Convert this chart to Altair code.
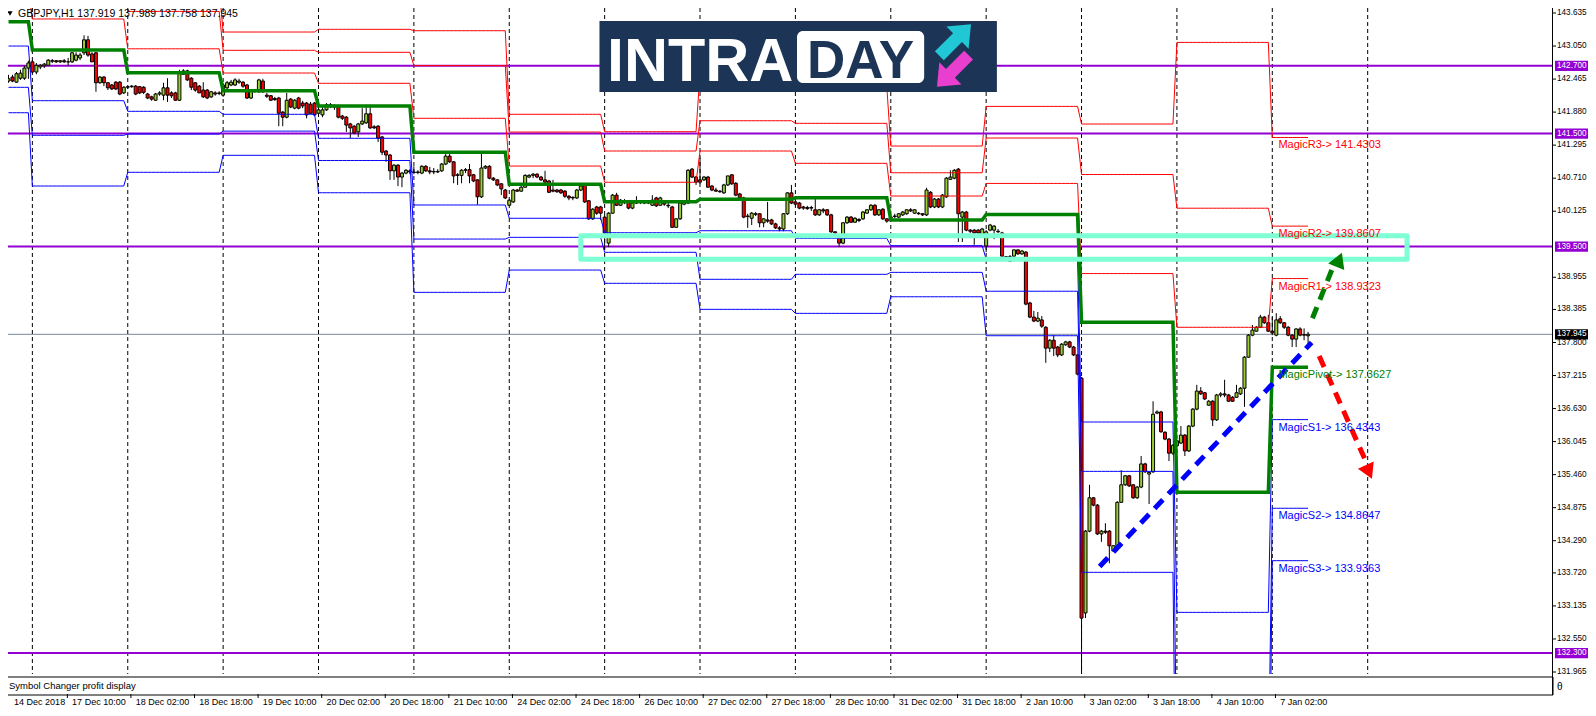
import altair as alt
import pandas as pd
from bisect import bisect_right

symbol = "GBPJPY"
timeframe = "H1"

# ---------------- hourly candles (bar 0 = 14 Dec 18:00) ----------------
opens = [
 142.43,142.50,142.41,142.48,142.48,142.66,142.77,142.59,142.68,142.70,
 142.71,142.79,142.79,142.77,142.79,142.77,142.77,142.80,142.84,142.93,
 143.16,142.91,142.93,142.40,142.50,142.40,142.36,142.41,142.41,142.22,
 142.32,142.33,142.34,142.33,142.32,142.20,142.15,142.09,142.20,142.18,
 142.31,142.22,142.22,142.09,142.55,142.61,142.48,142.40,142.34,142.27,
 142.27,142.15,142.22,142.22,142.18,142.31,142.36,142.36,142.41,142.41,
 142.36,142.13,142.25,142.24,142.43,142.18,142.17,142.12,142.13,141.88,
 141.79,142.11,141.95,142.13,142.04,142.04,142.02,142.04,141.86,141.83,
 141.92,142.01,141.99,141.99,141.81,141.79,141.67,141.63,141.53,141.67,
 141.69,141.85,141.62,141.63,141.44,141.19,141.12,140.84,140.94,140.73,
 140.80,140.84,140.82,140.81,140.80,140.92,140.84,140.82,140.83,140.84,
 140.96,141.10,141.00,140.77,140.76,140.85,140.86,140.77,140.68,140.38,
 140.89,140.92,140.71,140.68,140.61,140.50,140.23,140.29,140.50,140.48,
 140.55,140.73,140.76,140.78,140.73,140.68,140.66,140.50,140.50,140.50,
 140.48,140.39,140.37,140.36,140.50,140.59,140.31,139.99,140.20,140.20,
 140.02,139.56,140.09,140.41,140.23,140.31,140.29,140.18,140.27,140.29,
 140.29,140.27,140.23,140.36,140.23,140.27,140.23,140.20,139.84,139.99,
 140.25,140.27,140.87,140.73,140.68,140.68,140.73,140.57,140.50,140.48,
 140.45,140.59,140.77,140.62,140.43,140.36,140.04,140.00,140.08,140.08,
 139.92,139.97,139.97,139.90,139.83,139.81,140.08,140.45,140.29,140.27,
 140.20,140.19,140.18,140.15,140.06,140.15,140.15,140.06,139.76,139.67,
 139.56,139.92,140.02,139.93,139.98,139.99,140.09,140.15,140.23,140.06,
 140.16,139.99,140.00,140.04,140.02,140.06,140.08,140.15,140.09,140.09,
 140.08,140.06,140.46,140.20,140.34,140.20,140.38,140.69,140.71,140.87,
 140.02,140.11,139.79,139.79,139.79,139.70,139.51,139.79,139.79,139.77,
 139.74,139.32,139.32,139.33,139.44,139.37,139.40,138.50,138.25,138.18,
 138.20,138.07,137.70,137.84,137.72,137.58,137.76,137.81,137.72,137.58,
 137.17,133.01,134.46,135.05,134.92,134.41,134.46,134.46,134.11,134.20,
 134.97,135.28,135.44,135.28,135.05,135.24,135.65,135.47,135.51,136.55,
 136.57,136.21,136.09,135.84,135.97,136.02,136.16,135.88,136.32,136.62,
 136.94,136.91,136.69,136.76,136.43,136.87,136.89,136.87,136.83,136.83,
 136.89,136.99,137.54,137.93,138.00,138.07,138.25,138.15,138.00,137.93,
 138.22,138.15,138.07,137.93,137.86,138.04,137.94,137.919]
highs = [
 142.54,142.54,142.59,142.63,142.70,142.79,142.80,142.75,142.73,142.75,
 142.82,142.82,142.80,142.80,142.82,142.84,142.94,142.94,142.93,143.24,
 143.23,142.94,142.94,142.52,142.52,142.41,142.38,142.43,142.43,142.34,
 142.34,142.36,142.36,142.34,142.34,142.22,142.17,142.22,142.25,142.40,
 142.48,142.25,142.24,142.63,142.64,142.63,142.50,142.41,142.36,142.41,
 142.29,142.25,142.25,142.25,142.40,142.43,142.45,142.48,142.47,142.43,
 142.38,142.29,142.29,142.47,142.47,142.22,142.18,142.15,142.15,141.90,
 142.22,142.13,142.11,142.15,142.08,142.06,142.06,142.06,141.95,141.99,
 142.04,142.04,142.02,142.01,141.83,141.81,141.69,141.65,141.69,141.95,
 142.01,142.01,141.65,141.65,141.46,141.21,141.14,140.96,140.96,140.82,
 140.87,140.87,140.92,140.85,140.94,140.94,140.91,140.89,140.87,140.98,
 141.16,141.16,141.01,140.80,140.87,140.89,140.96,140.78,140.69,141.16,
 140.94,140.94,140.73,140.69,140.62,140.52,140.34,140.52,140.52,140.57,
 140.78,140.78,140.80,140.80,140.75,140.84,140.68,140.68,140.52,140.52,
 140.50,140.41,140.39,140.52,140.59,140.61,140.32,140.18,140.22,140.22,
 140.06,140.11,140.43,140.45,140.34,140.34,140.31,140.29,140.39,140.32,
 140.32,140.32,140.41,140.38,140.38,140.29,140.27,140.22,140.00,140.29,
 140.31,140.87,140.89,140.75,141.07,140.75,140.75,140.59,140.54,140.50,
 140.61,140.75,140.78,140.64,140.45,140.38,140.08,140.11,140.11,140.09,
 140.00,140.29,139.99,139.92,139.86,140.09,140.46,140.59,140.31,140.29,
 140.22,140.22,140.22,140.36,140.16,140.18,140.16,140.08,139.77,139.69,
 139.93,140.04,140.04,140.02,140.00,140.13,140.16,140.25,140.25,140.16,
 140.18,140.00,140.04,140.08,140.09,140.13,140.16,140.18,140.16,140.11,
 140.09,140.54,140.48,140.36,140.36,140.43,140.73,140.85,140.87,140.89,
 140.13,140.13,139.81,139.81,139.81,139.83,139.79,139.90,139.88,139.81,
 139.76,139.33,139.35,139.45,139.45,139.44,139.42,138.52,138.36,138.34,
 138.27,138.09,137.86,137.93,137.74,137.79,137.83,137.83,137.74,137.59,
 137.19,134.48,135.28,135.06,134.94,134.48,134.60,134.48,134.21,134.99,
 135.54,135.45,135.45,135.29,135.26,135.79,135.67,135.52,136.76,136.60,
 136.59,136.23,136.11,136.00,136.07,136.32,136.18,136.34,136.64,137.05,
 137.01,136.92,136.78,136.78,136.89,136.92,137.14,136.89,136.85,137.05,
 137.01,137.56,137.95,138.11,138.09,138.29,138.27,138.29,138.25,138.32,
 138.27,138.16,138.09,137.95,138.05,138.07,138.05,137.989]
lows = [
 142.40,142.41,142.40,142.45,142.45,142.47,142.57,142.55,142.64,142.66,
 142.70,142.75,142.75,142.75,142.75,142.70,142.75,142.78,142.80,142.89,
 142.86,142.77,142.24,142.38,142.34,142.27,142.27,142.27,142.18,142.20,
 142.29,142.31,142.18,142.20,142.20,142.11,142.08,142.08,142.17,142.09,
 142.06,142.13,142.08,142.08,142.54,142.43,142.27,142.24,142.22,142.13,
 142.11,142.13,142.17,142.18,142.15,142.24,142.34,142.34,142.38,142.31,
 142.11,142.11,142.22,142.22,142.22,142.13,142.08,142.08,141.63,141.63,
 141.77,141.95,141.93,141.93,141.95,141.77,141.85,141.81,141.81,141.79,
 141.90,141.95,141.92,141.77,141.74,141.53,141.42,141.49,141.44,141.65,
 141.67,141.58,141.58,141.35,141.12,141.00,140.68,140.68,140.57,140.55,
 140.78,140.78,140.78,140.78,140.78,140.82,140.78,140.78,140.80,140.82,
 140.94,140.98,140.62,140.59,140.62,140.80,140.62,140.64,140.24,140.36,
 140.87,140.69,140.66,140.57,140.41,140.34,140.22,140.27,140.47,140.47,
 140.54,140.71,140.71,140.71,140.66,140.62,140.45,140.46,140.45,140.43,
 140.36,140.32,140.32,140.34,140.48,140.27,139.97,139.97,140.06,139.97,
 139.44,139.49,140.08,140.22,140.22,140.25,140.16,140.16,140.25,140.25,
 140.25,140.25,140.22,140.20,140.22,140.22,140.18,139.83,139.83,139.97,
 140.23,140.25,140.71,140.59,140.61,140.66,140.54,140.48,140.47,140.45,
 140.43,140.57,140.59,140.39,140.34,140.00,139.83,139.88,140.04,139.84,
 139.84,139.92,139.88,139.81,139.77,139.77,140.06,140.25,140.22,140.16,
 140.15,140.15,140.13,140.04,140.04,140.09,140.04,139.74,139.72,139.49,
 139.54,139.90,139.92,139.92,139.93,139.97,140.08,140.13,140.04,140.04,
 139.97,139.92,139.99,140.00,140.00,140.04,140.06,140.11,140.08,140.06,
 140.04,140.04,140.18,140.18,140.18,140.18,140.36,140.68,140.69,139.58,
 139.58,139.77,139.74,139.53,139.70,139.69,139.40,139.77,139.63,139.74,
 139.32,139.28,139.23,139.30,139.35,139.35,138.46,138.23,138.16,138.16,
 138.06,137.44,137.63,137.56,137.54,137.56,137.74,137.70,137.56,137.22,
 131.70,132.92,134.44,134.90,134.39,134.27,134.41,133.89,134.09,134.18,
 134.96,135.26,135.24,135.03,135.03,135.22,135.49,134.94,135.49,136.53,
 136.20,136.07,135.70,135.81,135.95,136.00,135.79,135.86,136.30,136.60,
 136.87,136.78,136.68,136.32,136.41,136.83,136.83,136.75,136.75,136.82,
 136.87,136.66,137.53,137.91,137.99,138.06,138.13,137.99,137.93,137.91,
 138.13,138.04,137.91,137.72,137.72,137.91,137.84,137.758]
closes = [
 142.47,142.43,142.56,142.57,142.66,142.75,142.59,142.71,142.71,142.73,
 142.80,142.78,142.77,142.79,142.77,142.77,142.93,142.89,142.89,143.16,
 142.89,142.77,142.40,142.50,142.40,142.31,142.29,142.29,142.20,142.32,
 142.33,142.34,142.20,142.22,142.23,142.13,142.11,142.20,142.22,142.31,
 142.18,142.17,142.09,142.59,142.61,142.45,142.32,142.27,142.22,142.15,
 142.13,142.24,142.20,142.21,142.36,142.40,142.41,142.45,142.43,142.34,
 142.13,142.27,142.26,142.45,142.24,142.16,142.09,142.10,141.86,141.79,
 142.09,141.97,142.09,141.95,141.99,141.83,141.86,141.83,141.92,141.92,
 142.01,141.99,141.97,141.79,141.77,141.65,141.60,141.51,141.67,141.72,
 141.85,141.60,141.60,141.42,141.17,141.12,140.84,140.94,140.73,140.80,
 140.85,140.82,140.81,140.82,140.92,140.84,140.82,140.83,140.82,140.96,
 141.10,141.00,140.75,140.76,140.85,140.86,140.75,140.66,140.38,140.89,
 140.92,140.71,140.68,140.59,140.52,140.36,140.32,140.50,140.48,140.55,
 140.76,140.76,140.78,140.73,140.68,140.64,140.46,140.48,140.47,140.45,
 140.39,140.36,140.36,140.50,140.57,140.29,139.99,140.16,140.09,140.09,
 139.74,140.09,140.41,140.23,140.32,140.29,140.18,140.27,140.29,140.28,
 140.27,140.29,140.32,140.22,140.36,140.25,140.22,139.84,139.99,140.27,
 140.29,140.85,140.73,140.64,140.64,140.73,140.55,140.50,140.48,140.47,
 140.59,140.75,140.61,140.41,140.36,140.02,140.03,140.09,140.07,139.92,
 139.99,139.95,139.90,139.83,139.81,140.08,140.45,140.27,140.25,140.18,
 140.18,140.17,140.19,140.06,140.15,140.13,140.06,139.76,139.74,139.56,
 139.92,140.02,139.93,140.00,139.96,140.11,140.15,140.23,140.06,140.15,
 139.99,139.95,140.02,140.03,140.08,140.11,140.15,140.13,140.15,140.08,
 140.06,140.50,140.20,140.34,140.20,140.41,140.71,140.73,140.85,140.08,
 140.11,139.79,139.77,139.74,139.74,139.81,139.76,139.88,139.86,139.76,
 139.33,139.30,139.24,139.44,139.37,139.42,138.48,138.25,138.18,138.23,
 138.09,137.70,137.84,137.70,137.58,137.77,137.81,137.72,137.58,137.24,
 132.92,134.46,135.05,134.92,134.41,134.46,134.44,134.20,134.20,134.97,
 135.28,135.44,135.26,135.05,135.24,135.65,135.51,135.50,136.53,136.57,
 136.22,136.09,135.84,135.98,136.06,136.16,135.88,136.32,136.62,136.94,
 136.89,136.80,136.76,136.43,136.87,136.89,136.87,136.76,136.76,136.91,
 136.99,137.54,137.93,138.02,138.07,138.25,138.15,138.00,137.97,138.20,
 138.15,138.07,137.93,137.86,138.04,137.93,137.93,137.945]

# ---------------- daily "Magic" pivot levels ----------------
day_start = [0, 6, 30, 54, 78, 102, 126, 150, 174, 198, 222, 246, 270, 294, 318]
R3 = [145.204,145.034,144.086,143.298,143.346,143.321,141.841,141.533,142.583,142.330,141.279,141.981,141.669,143.114,141.4303]
R2 = [144.642,144.485,143.663,142.974,142.939,142.703,141.527,141.191,141.727,141.681,140.806,141.421,140.775,140.178,139.8607]
R1 = [144.042,143.529,143.001,142.572,142.390,141.770,140.925,140.637,141.191,140.973,140.394,140.617,139.021,138.069,138.9323]
PP = [143.481,142.980,142.578,142.259,141.988,141.168,140.601,140.293,140.335,140.364,139.969,140.066,138.157,135.146,137.3627]
S1 = [143.050,142.082,141.894,141.841,141.416,140.235,140.000,139.744,139.779,139.645,139.514,139.275,136.392,133.021,136.4343]
S2 = [142.319,141.469,141.492,141.543,141.023,139.632,139.662,139.397,138.919,139.007,139.042,138.708,135.518,130.104,134.8647]
S3 = [141.869,140.571,140.814,141.115,140.452,138.688,139.083,138.848,138.387,138.316,138.610,137.920,133.730,127.979,133.9363]

separator_bars = [6, 30, 54, 78, 102, 126, 150, 174, 198, 222, 246, 270, 294, 318, 342]
purple_levels = [142.700, 141.500, 139.500, 132.300]
axis_ticks = [143.635, 143.050, 142.465, 141.880, 141.295, 140.710, 140.125, 138.955, 138.385,
              137.800, 137.215, 136.630, 136.045, 135.460, 134.875, 134.290, 133.720, 133.135,
              132.550, 131.965]
tick_bars = [0, 16, 32, 48, 64, 80, 96, 112, 128, 144, 160, 176, 192, 208, 224, 240, 256, 272, 288, 304, 320]
tick_labels = ["14 Dec 2018", "17 Dec 10:00", "18 Dec 02:00", "18 Dec 18:00", "19 Dec 10:00",
               "20 Dec 02:00", "20 Dec 18:00", "21 Dec 10:00", "24 Dec 02:00", "24 Dec 18:00",
               "26 Dec 10:00", "27 Dec 02:00", "27 Dec 18:00", "28 Dec 10:00", "31 Dec 02:00",
               "31 Dec 18:00", "2 Jan 10:00", "3 Jan 02:00", "3 Jan 18:00", "4 Jan 10:00", "7 Jan 02:00"]

# drawn objects (bar index, price)
zone_bars = [144.0, 351.9]
zone_prices = [139.690, 139.275]
blue_arrow_bars = [274.55, 327.9]
blue_arrow_prices = [133.833, 137.800]
green_arrow_bars = [328.1, 333.3]
green_arrow_prices = [138.229, 139.143]
red_arrow_bars = [329.8, 341.2]
red_arrow_prices = [137.561, 135.749]
green_head = (334.8, 139.266)
red_head = (342.3, 135.507)
label_bar = 319.55

# logo anchor (bar, price)
logo_box_bars = [148.7, 248.7]
logo_box_prices = [143.493, 142.236]
logo_white_bars = [198.4, 230.4]
logo_white_prices = [143.316, 142.395]

FONT = "Liberation Sans"
W, H = 1545, 666
TOTAL_W, TOTAL_H = 1580, 699
xs = alt.Scale(domain=[1.125, 387.375], nice=False, zero=False)
ys = alt.Scale(domain=[131.9297, 143.7235], nice=False, zero=False)

def X(field):
    return alt.X(field, type="quantitative", scale=xs, axis=None)

def Y(field):
    return alt.Y(field, type="quantitative", scale=ys, axis=None)

n = len(opens)
candles = pd.DataFrame({"bar": list(range(n)), "open": opens, "high": highs, "low": lows, "close": closes})
candles["dir"] = ["up" if c >= o else "down" for o, c in zip(opens, closes)]

rows = []
for name, vals in [("R3", R3), ("R2", R2), ("R1", R1), ("P", PP), ("S1", S1), ("S2", S2), ("S3", S3)]:
    for b in range(n):
        d = bisect_right(day_start, b) - 1
        rows.append((name, b, vals[d]))
piv = pd.DataFrame(rows, columns=["level", "bar", "price"])

one = pd.DataFrame({"k": [0]})
layers = []

# period separators (+ bottom frame via x-axis domain)
layers.append(alt.Chart(pd.DataFrame({"bar": separator_bars})).mark_rule(
    color="black", strokeDash=[4, 3], strokeWidth=1).encode(
    x=alt.X("bar:Q", scale=xs, axis=alt.Axis(orient="bottom", labels=False, ticks=False, domain=True,
                                               domainColor="black", domainWidth=1, grid=False, title=None))))

# horizontal levels
layers.append(alt.Chart(pd.DataFrame({"price": purple_levels})).mark_rule(
    color="#9400D3", strokeWidth=2).encode(y=Y("price")))
layers.append(alt.Chart(pd.DataFrame({"price": [closes[-1]]})).mark_rule(
    color="#778899", strokeWidth=1).encode(y=Y("price")))

# candles
layers.append(alt.Chart(candles).mark_rule(color="black", strokeWidth=1, clip=True).encode(
    x=X("bar"), y=Y("low"), y2="high:Q"))
layers.append(alt.Chart(candles).mark_bar(width=3, stroke="black", strokeWidth=1, clip=True).encode(
    x=X("bar"), y=Y("open"), y2="close:Q",
    color=alt.Color("dir:N", scale=alt.Scale(domain=["up", "down"], range=["#9ACD32", "#FF0000"]), legend=None)))

# pivot lines
layers.append(alt.Chart(piv[piv.level.isin(["R3", "R2", "R1"])]).mark_line(
    color="#FF0000", strokeWidth=1, clip=True).encode(x=X("bar"), y=Y("price"), detail="level:N"))
layers.append(alt.Chart(piv[piv.level.isin(["S1", "S2", "S3"])]).mark_line(
    color="#0000FF", strokeWidth=1, clip=True).encode(x=X("bar"), y=Y("price"), detail="level:N"))
layers.append(alt.Chart(piv[piv.level == "P"]).mark_line(
    color="#008000", strokeWidth=3.5, clip=True).encode(x=X("bar"), y=Y("price")))

# zone rectangle
layers.append(alt.Chart(pd.DataFrame({"b0": [zone_bars[0]], "b1": [zone_bars[1]], "p0": [zone_prices[0]], "p1": [zone_prices[1]]})).mark_rect(
    fill="transparent", stroke="#7FFFD4", strokeWidth=5, strokeJoin="round").encode(
    x=X("b0"), x2="b1:Q", y=Y("p0"), y2="p1:Q"))

# dashed arrows
for bars_, prices_, col in [(blue_arrow_bars, blue_arrow_prices, "#0000FF"),
                            (green_arrow_bars, green_arrow_prices, "#008000"),
                            (red_arrow_bars, red_arrow_prices, "#FF0000")]:
    layers.append(alt.Chart(pd.DataFrame({"bar": bars_, "price": prices_})).mark_line(
        color=col, strokeWidth=5, strokeDash=[12, 8], strokeCap="butt").encode(x=X("bar"), y=Y("price")))
layers.append(alt.Chart(pd.DataFrame({"bar": [green_head[0]], "price": [green_head[1]]})).mark_point(
    shape="triangle-up", filled=True, size=300, angle=22, color="#008000", opacity=1).encode(x=X("bar"), y=Y("price")))
layers.append(alt.Chart(pd.DataFrame({"bar": [red_head[0]], "price": [red_head[1]]})).mark_point(
    shape="triangle-up", filled=True, size=300, angle=156, color="#FF0000", opacity=1).encode(x=X("bar"), y=Y("price")))

# level labels of the current day
lab_names = ["R3", "R2", "R1", "Pivot", "S1", "S2", "S3"]
lab_vals = [R3[-1], R2[-1], R1[-1], PP[-1], S1[-1], S2[-1], S3[-1]]
lab_cols = ["#FF0000"] * 3 + ["#008000"] + ["#0000FF"] * 3
lab_df = pd.DataFrame({"bar": [label_bar] * 7, "price": lab_vals,
                       "text": [f"Magic{nm}-> {v:.4f}" for nm, v in zip(lab_names, lab_vals)], "col": lab_cols})
layers.append(alt.Chart(lab_df).mark_text(align="left", baseline="top", dy=2, font=FONT, fontSize=11).encode(
    x=X("bar"), y=Y("price"), text="text:N", color=alt.Color("col:N", scale=None)))

# logo
logo = pd.DataFrame({"b0": [logo_box_bars[0]], "b1": [logo_box_bars[1]], "p0": [logo_box_prices[0]], "p1": [logo_box_prices[1]],
                     "w0": [logo_white_bars[0]], "w1": [logo_white_bars[1]], "q0": [logo_white_prices[0]], "q1": [logo_white_prices[1]],
                     "t1": ["INTRA"], "t2": ["DAY"], "tb1": [150.6], "tb2": [214.4], "tp": [142.431], "tp2": [142.484],
                     "ab": [238.2], "ap": [143.157], "mb": [237.6], "mp": [142.608]})
layers.append(alt.Chart(logo).mark_rect(fill="#1c3456").encode(x=X("b0"), x2="b1:Q", y=Y("p0"), y2="p1:Q"))
layers.append(alt.Chart(logo).mark_rect(fill="white", cornerRadius=6).encode(x=X("w0"), x2="w1:Q", y=Y("q0"), y2="q1:Q"))
layers.append(alt.Chart(logo).mark_text(align="left", baseline="alphabetic", font=FONT, fontSize=61, fontWeight="bold", color="white").encode(
    x=X("tb1"), y=Y("tp"), text="t1:N"))
layers.append(alt.Chart(logo).mark_text(align="center", baseline="alphabetic", font=FONT, fontSize=53, fontWeight="bold", color="#1c3456").encode(
    x=X("tb2"), y=Y("tp2"), text="t2:N"))
arrow_path = "M-1,-0.28L0.15,-0.28L0.15,-0.7L1,0L0.15,0.7L0.15,0.28L-1,0.28Z"
layers.append(alt.Chart(logo).mark_point(shape=arrow_path, filled=True, size=2000, angle=315, color="#22c7d6", opacity=1).encode(
    x=X("ab"), y=Y("ap")))
layers.append(alt.Chart(logo).mark_point(shape=arrow_path, filled=True, size=2000, angle=135, color="#e83fcf", opacity=1).encode(
    x=X("mb"), y=Y("mp")))

# title
title_df = pd.DataFrame({"t": [f"{symbol},{timeframe}  {opens[-1]:.3f} {highs[-1]:.3f} {lows[-1]:.3f} {closes[-1]:.3f}"]})
layers.append(alt.Chart(title_df).mark_point(shape="triangle-down", filled=True, size=28, color="black", opacity=1).encode(
    x=alt.value(2), y=alt.value(5.5)))
layers.append(alt.Chart(title_df).mark_text(align="left", baseline="middle", font=FONT, fontSize=10.5, color="black").encode(
    x=alt.value(10), y=alt.value(6), text="t:N"))

# sub window
sub_df = pd.DataFrame({"t": ["Symbol Changer profit display"], "z": ["θ"]})
layers.append(alt.Chart(sub_df).mark_rect(fill="white", stroke="black", strokeWidth=1).encode(
    x=alt.value(-2), x2=alt.value(W), y=alt.value(669), y2=alt.value(687)))
layers.append(alt.Chart(sub_df).mark_text(align="left", baseline="middle", font=FONT, fontSize=9.5, color="black").encode(
    x=alt.value(1), y=alt.value(678), text="t:N"))
layers.append(alt.Chart(sub_df).mark_text(align="left", baseline="middle", font=FONT, fontSize=10, color="black").encode(
    x=alt.value(W + 4), y=alt.value(679), text="z:N"))

# right price scale: frame line, ticks and labels
layers.append(alt.Chart(one).mark_rule(color="black", strokeWidth=1).encode(
    x=alt.value(W - 0.5), y=alt.value(0), y2=alt.value(687)))
tick_df = pd.DataFrame({"price": axis_ticks, "text": [f"{v:.3f}" for v in axis_ticks]})
layers.append(alt.Chart(tick_df).mark_rule(color="black", strokeWidth=1).encode(
    x=alt.value(W), x2=alt.value(W + 3), y=Y("price")))
layers.append(alt.Chart(tick_df).mark_text(align="left", baseline="middle", font=FONT, fontSize=8.2, color="black").encode(
    x=alt.value(W + 4), y=Y("price"), text="text:N"))

# right-axis level boxes
box_df = pd.DataFrame({"price": purple_levels + [closes[-1]], "fill": ["#9400D3"] * 4 + ["black"],
                       "text": [f"{v:.3f}" for v in purple_levels + [closes[-1]]]})
box_path = "M-1,-0.25L1,-0.25L1,0.25L-1,0.25Z"
layers.append(alt.Chart(box_df).mark_point(shape=box_path, filled=True, size=1681, opacity=1).encode(
    x=alt.value(W + 22.5), y=Y("price"), color=alt.Color("fill:N", scale=None)))
layers.append(alt.Chart(box_df).mark_text(align="left", baseline="middle", font=FONT, fontSize=8.2, color="white").encode(
    x=alt.value(W + 4), y=Y("price"), text="text:N"))

# time axis: small ticks and labels
date_df = pd.DataFrame({"bar": tick_bars, "label": tick_labels})
layers.append(alt.Chart(date_df).transform_calculate(xt="datum.bar - 1.2").transform_filter(
    "datum.xt > 1.2").mark_rule(color="black", strokeWidth=1).encode(
    x=X("xt"), y=alt.value(686), y2=alt.value(690)))
layers.append(alt.Chart(date_df).transform_calculate(xb="max(datum.bar, 1.4)").mark_text(
    align="left", baseline="middle", font=FONT, fontSize=9, color="black").encode(
    x=X("xb"), y=alt.value(694), text="label:N"))

chart = alt.layer(*layers).properties(
    width=W, height=H,
    autosize=alt.AutoSizeParams(type="none"),
    padding={"left": 0, "top": 0, "right": TOTAL_W - W, "bottom": TOTAL_H - H},
    background="white",
).configure_view(stroke="transparent")

chart.save("out.html", embed_options={"renderer": "svg", "actions": False})
